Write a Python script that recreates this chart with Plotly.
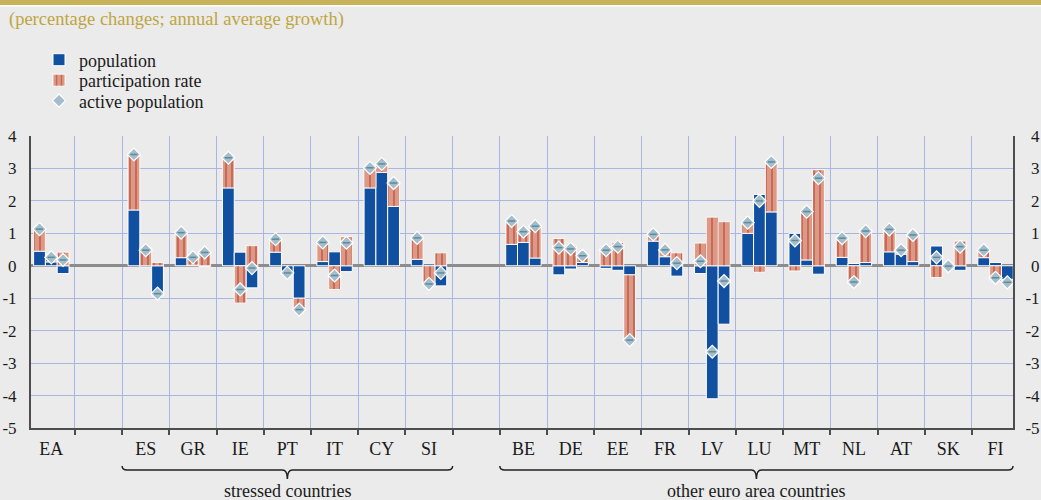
import plotly.graph_objects as go

# ---------------- data ----------------
categories = ["EA", "", "ES", "GR", "IE", "PT", "IT", "CY", "SI", "",
              "BE", "DE", "EE", "FR", "LV", "LU", "MT", "NL", "AT", "SK", "FI"]
countries = [c for c in categories if c]

# three sub-periods per country (left, middle, right bar)
population = [
    [0.45, 0.12, -0.24],   # EA
    [1.72, -0.04, -0.93],  # ES
    [0.25, 0.02, -0.02],   # GR
    [2.40, 0.42, -0.68],   # IE
    [0.42, -0.18, -1.00],  # PT
    [0.13, 0.43, -0.18],   # IT
    [2.40, 2.88, 1.83],    # CY
    [0.20, 0.06, -0.62],   # SI
    [0.66, 0.72, 0.24],    # BE
    [-0.28, -0.10, 0.10],  # DE
    [-0.08, -0.14, -0.28], # EE
    [0.76, 0.28, -0.32],   # FR
    [-0.24, -4.10, -1.80], # LV
    [1.00, 2.20, 1.66],    # LU
    [1.00, 0.18, -0.26],   # MT
    [0.26, 0.07, 0.10],    # NL
    [0.43, 0.36, 0.13],    # AT
    [0.61, 0.01, -0.14],   # SK
    [0.25, 0.10, -0.42],   # FI
]
participation_rate = [
    [0.68, 0.10, 0.42],    # EA
    [1.70, 0.56, 0.10],    # ES
    [0.77, 0.20, 0.44],    # GR
    [0.87, -1.15, 0.62],   # IE
    [0.40, -0.04, -0.32],  # PT
    [0.59, -0.73, 0.90],   # IT
    [0.61, 0.26, 0.72],    # CY
    [0.72, -0.62, 0.40],   # SI
    [0.72, 0.31, 1.01],    # BE
    [0.84, 0.62, 0.20],    # DE
    [0.58, 0.72, -2.04],   # EE
    [0.21, 0.18, 0.40],    # FR
    [0.70, 1.50, 1.36],    # LV
    [0.31, -0.20, 1.52],   # LU
    [-0.16, 1.49, 2.96],   # MT
    [0.60, -0.58, 0.95],   # NL
    [0.71, 0.16, 0.82],    # AT
    [-0.36, -0.02, 0.76],  # SK
    [0.23, -0.47, -0.08],  # FI
]
active_population = [
    [1.13, 0.26, 0.18],    # EA
    [3.43, 0.48, -0.86],   # ES
    [1.02, 0.26, 0.41],    # GR
    [3.33, -0.73, -0.07],  # IE
    [0.82, -0.22, -1.35],  # PT
    [0.72, -0.30, 0.71],   # IT
    [3.02, 3.14, 2.55],    # CY
    [0.86, -0.56, -0.22],  # SI
    [1.38, 1.05, 1.22],    # BE
    [0.56, 0.52, 0.31],    # DE
    [0.48, 0.59, -2.29],   # EE
    [0.97, 0.49, 0.08],    # FR
    [0.14, -2.65, -0.47],  # LV
    [1.33, 2.00, 3.20],    # LU
    [0.78, 1.67, 2.70],    # MT
    [0.85, -0.50, 1.07],   # NL
    [1.12, 0.48, 0.95],    # AT
    [0.26, -0.01, 0.59],   # SK
    [0.48, -0.37, -0.51],  # FI
]
y_ticks = [-5, -4, -3, -2, -1, 0, 1, 2, 3, 4]
group_labels = ["stressed countries", "other euro area countries"]
group_first = ["ES", "BE"]
group_last = ["SI", "FI"]

# ---------------- geometry / style ----------------
W, H = 1041, 500
L, R, T, B = 31, 28, 136, 72
XMIN, XMAX = -0.43, 20.37
offsets = [-0.25, 0.0, 0.25]
BAR_W = 0.25
FONT = "Liberation Serif, Times New Roman, serif"
GRID = "#a9b5e3"
AXIS = "#4d4d4d"
BG = "#ebebeb"
TXT = "#1a1a1a"


def px_x(p):
    return (p - L) / (W - L - R)


def px_y(p):
    return (H - B - p) / (H - T - B)


def data_to_paper_x(x):
    return (x - XMIN) / (XMAX - XMIN)


slot = {c: i for i, c in enumerate(categories) if c}
xs = [slot[c] + o for c in countries for o in offsets]
pop_vals = [v for row in population for v in row]
part_vals = [v for row in participation_rate for v in row]
act_vals = [v for row in active_population for v in row]

fig = go.Figure()
fig.add_trace(go.Bar(
    x=xs, y=pop_vals, width=BAR_W, name="population", legend="legend",
    marker=dict(color="#1150a0", line=dict(color="white", width=1)),
))
fig.add_trace(go.Bar(
    x=xs, y=part_vals, width=BAR_W, name="participation rate", legend="legend2",
    marker=dict(color="#dc9a86", line=dict(color="rgba(255,255,255,0.85)", width=1),
                pattern=dict(shape="|", fgcolor="#ad2818", size=6, solidity=0.28,
                             fillmode="overlay")),
))
fig.add_trace(go.Scatter(
    x=xs, y=act_vals, mode="markers", name="active population", legend="legend3",
    marker=dict(symbol="diamond", size=10, color="#a4bdca",
                line=dict(color="white", width=1.2)),
))
fig.add_trace(go.Scatter(
    x=xs, y=act_vals, mode="markers", showlegend=False, hoverinfo="skip",
    marker=dict(symbol="line-ew", size=5, line=dict(color="#5b8b9e", width=1.5)),
))
# carrier for the right-hand axis
fig.add_trace(go.Scatter(x=[None], y=[None], yaxis="y2", showlegend=False,
                         hoverinfo="skip"))

tick_text_left = [str(v) for v in y_ticks]
tick_text_right = [("\u2004" + str(v)) if v >= 0 else str(v) for v in y_ticks]


def legend_at(ypx):
    return dict(xref="container", yref="container", x=39 / W, y=1 - ypx / H,
                xanchor="left", yanchor="middle", bgcolor="rgba(0,0,0,0)",
                font=dict(family=FONT, size=18, color=TXT), itemwidth=30)


fig.update_layout(
    width=W, height=H,
    margin=dict(l=L, r=R, t=T, b=B, pad=0, autoexpand=False),
    paper_bgcolor=BG, plot_bgcolor=BG,
    barmode="relative",
    font=dict(family=FONT, size=17, color=TXT),
    showlegend=True,
    legend=legend_at(60),
    legend2=legend_at(80.5),
    legend3=legend_at(101),
    xaxis=dict(range=[XMIN, XMAX], tickmode="array",
               tickvals=list(range(len(categories))), ticktext=categories,
               ticks="", showgrid=False, zeroline=False,
               showline=True, linecolor=AXIS, linewidth=1.5,
               ticklabelstandoff=4, tickfont=dict(size=18),
               minor=dict(tickmode="linear", tick0=0.5, dtick=1, ticks="outside",
                          ticklen=5, tickwidth=1.5, tickcolor=AXIS,
                          showgrid=True, gridcolor=GRID, gridwidth=1)),
    yaxis=dict(range=[-5, 4], tickmode="array", tickvals=y_ticks,
               ticktext=tick_text_left, ticks="",
               showgrid=True, gridcolor=GRID, gridwidth=1,
               zeroline=True, zerolinecolor="#8c8c8c", zerolinewidth=2.5,
               showline=True, linecolor=AXIS, linewidth=2,
               ticklabelstandoff=9),
    yaxis2=dict(range=[-5, 4], overlaying="y", side="right", tickmode="array",
                tickvals=y_ticks, ticktext=tick_text_right, ticks="",
                showgrid=False, zeroline=False, showline=True,
                linecolor=AXIS, linewidth=2, ticklabelstandoff=7),
)

shapes = []
# gold band on top
shapes.append(dict(type="rect", xref="paper", yref="paper",
                   x0=px_x(0), x1=px_x(W), y0=px_y(5), y1=px_y(0),
                   fillcolor="#c9b35a", line=dict(width=0), layer="above"))
shapes.append(dict(type="rect", xref="paper", yref="paper",
                   x0=px_x(0), x1=px_x(W), y0=px_y(6.5), y1=px_y(5),
                   fillcolor="#ffffff", line=dict(width=0), layer="above"))

annotations = [dict(text="(percentage changes; annual average growth)",
                    xref="paper", yref="paper", x=px_x(7), y=px_y(20),
                    xanchor="left", yanchor="middle", showarrow=False,
                    font=dict(family=FONT, size=18.5, color="#bea63e"))]

# braces under the country groups
y_top, y_mid, y_bot = px_y(466), px_y(470), px_y(479)
dx = 5 / (W - L - R)
for label, first, last in zip(group_labels, group_first, group_last):
    x0 = data_to_paper_x(slot[first] - 0.5)
    x1 = data_to_paper_x(min(slot[last] + 0.5, XMAX))
    xc = (x0 + x1) / 2
    path = (f"M {x0},{y_top} Q {x0},{y_mid} {x0 + dx},{y_mid} "
            f"L {xc - dx},{y_mid} Q {xc},{y_mid} {xc},{y_bot} "
            f"Q {xc},{y_mid} {xc + dx},{y_mid} "
            f"L {x1 - dx},{y_mid} Q {x1},{y_mid} {x1},{y_top}")
    shapes.append(dict(type="path", xref="paper", yref="paper", path=path,
                       line=dict(color="#222222", width=1.5)))
    annotations.append(dict(text=label, xref="paper", yref="paper",
                            x=xc, y=px_y(491), xanchor="center", yanchor="middle",
                            showarrow=False,
                            font=dict(family=FONT, size=18, color=TXT)))

fig.update_layout(shapes=shapes, annotations=annotations)
fig.write_html("out.html",
               config={"displayModeBar": False},
               post_script="document.body.style.margin='0';"
                           "document.body.style.overflow='hidden';")
